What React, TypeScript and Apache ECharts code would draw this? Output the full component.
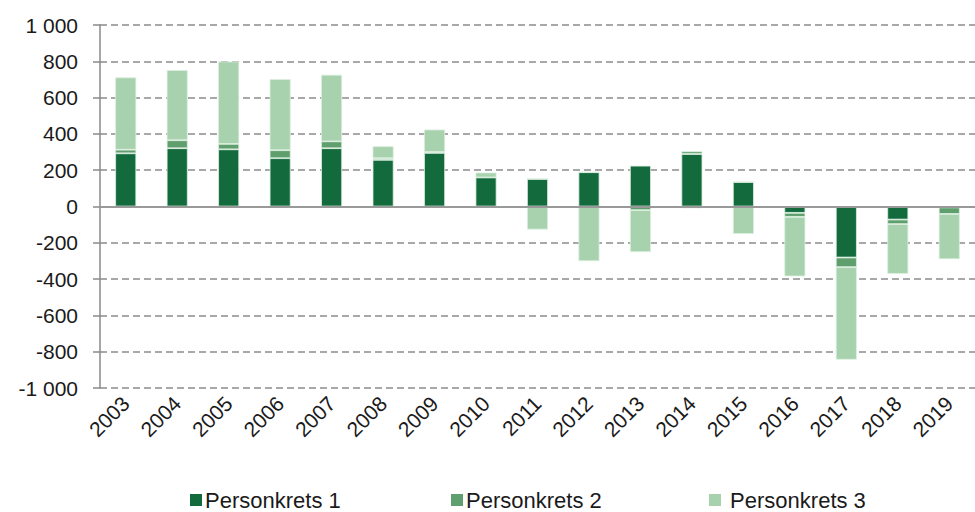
import React, { useEffect, useRef } from "react";
import * as echarts from "echarts";

const years = ["2003","2004","2005","2006","2007","2008","2009","2010","2011","2012","2013","2014","2015","2016","2017","2018","2019"];
const personkrets1 = [293, 321, 315, 266, 321, 257, 295, 160, 152, 189, 225, 289, 135, -35, -281, -72, -5];
const personkrets2 = [20, 44, 30, 44, 38, 9, 5, -4, 0, 0, -20, 15, 0, -22, -53, -25, -36];
const personkrets3 = [398, 387, 454, 392, 367, 66, 124, 27, -127, -301, -231, -10, -151, -328, -510, -274, -249];
const seriesNames = ["Personkrets 1", "Personkrets 2", "Personkrets 3"];
const colors = ["#136a3d", "#5f9e6d", "#a7d2ad"];

const FONT = "'Liberation Sans', Arial, sans-serif";

function fmt(v: number): string {
  const s = Math.abs(v).toString().replace(/\B(?=(\d{3})+(?!\d))/g, " ");
  return (v < 0 ? "-" : "") + s;
}

export default function App() {
  const ref = useRef<HTMLDivElement>(null);
  useEffect(() => {
    if (!ref.current) return;
    const chart = echarts.init(ref.current, undefined, { renderer: "svg" });
    const data = [personkrets1, personkrets2, personkrets3];
    const legendLefts = [190, 451, 709];
    chart.setOption({
      animation: false,
      textStyle: { fontFamily: FONT },
      grid: { left: 100, right: 0, top: 25, bottom: 124 },
      legend: seriesNames.map((n, i) => ({
        data: [n],
        left: legendLefts[i],
        top: 489,
        padding: 0,
        itemWidth: 12,
        itemHeight: 12,
        itemGap: 0,
        icon: "rect",
        itemStyle: { borderWidth: 0 },
        formatter: i === 2 ? " {name}" : "{name}",
        textStyle: { fontSize: 22, lineHeight: 22, color: "#1a1a1a", fontFamily: FONT, padding: [0, 0, 0, -2] },
        selectedMode: false,
      })),
      xAxis: {
        type: "category",
        data: years,
        axisLine: { show: false },
        axisTick: { show: false },
        axisLabel: {
          rotate: 45,
          fontSize: 21,
          color: "#1a1a1a",
          fontFamily: FONT,
          margin: 12,
        },
      },
      yAxis: {
        type: "value",
        min: -1000,
        max: 1000,
        interval: 200,
        axisLine: { show: true, lineStyle: { color: "#8a8a8a", width: 1.5 } },
        axisTick: { show: true, length: 7, lineStyle: { color: "#8a8a8a", width: 1.5 } },
        axisLabel: {
          fontSize: 21,
          color: "#1a1a1a",
          fontFamily: FONT,
          margin: 22,
          formatter: (v: number) => fmt(v),
        },
        splitLine: {
          show: true,
          lineStyle: { color: "#8c8c8c", width: 1.5, type: [7, 4] },
        },
      },
      series: seriesNames.map((n, i) => ({
        name: n,
        type: "bar",
        stack: "total",
        barWidth: 21,
        data: data[i],
        itemStyle: { color: colors[i], borderColor: "#dcefdf", borderWidth: 0.8 },
        markLine:
          i === 2
            ? {
                silent: true,
                symbol: "none",
                label: { show: false },
                lineStyle: { color: "#999999", width: 2, type: "solid" },
                data: [{ yAxis: 0 }],
              }
            : undefined,
      })),
    });
    return () => chart.dispose();
  }, []);
  return (
    <div
      ref={ref}
      style={{ position: "fixed", left: 0, top: 0, width: 975, height: 512, background: "#fff" }}
    />
  );
}
